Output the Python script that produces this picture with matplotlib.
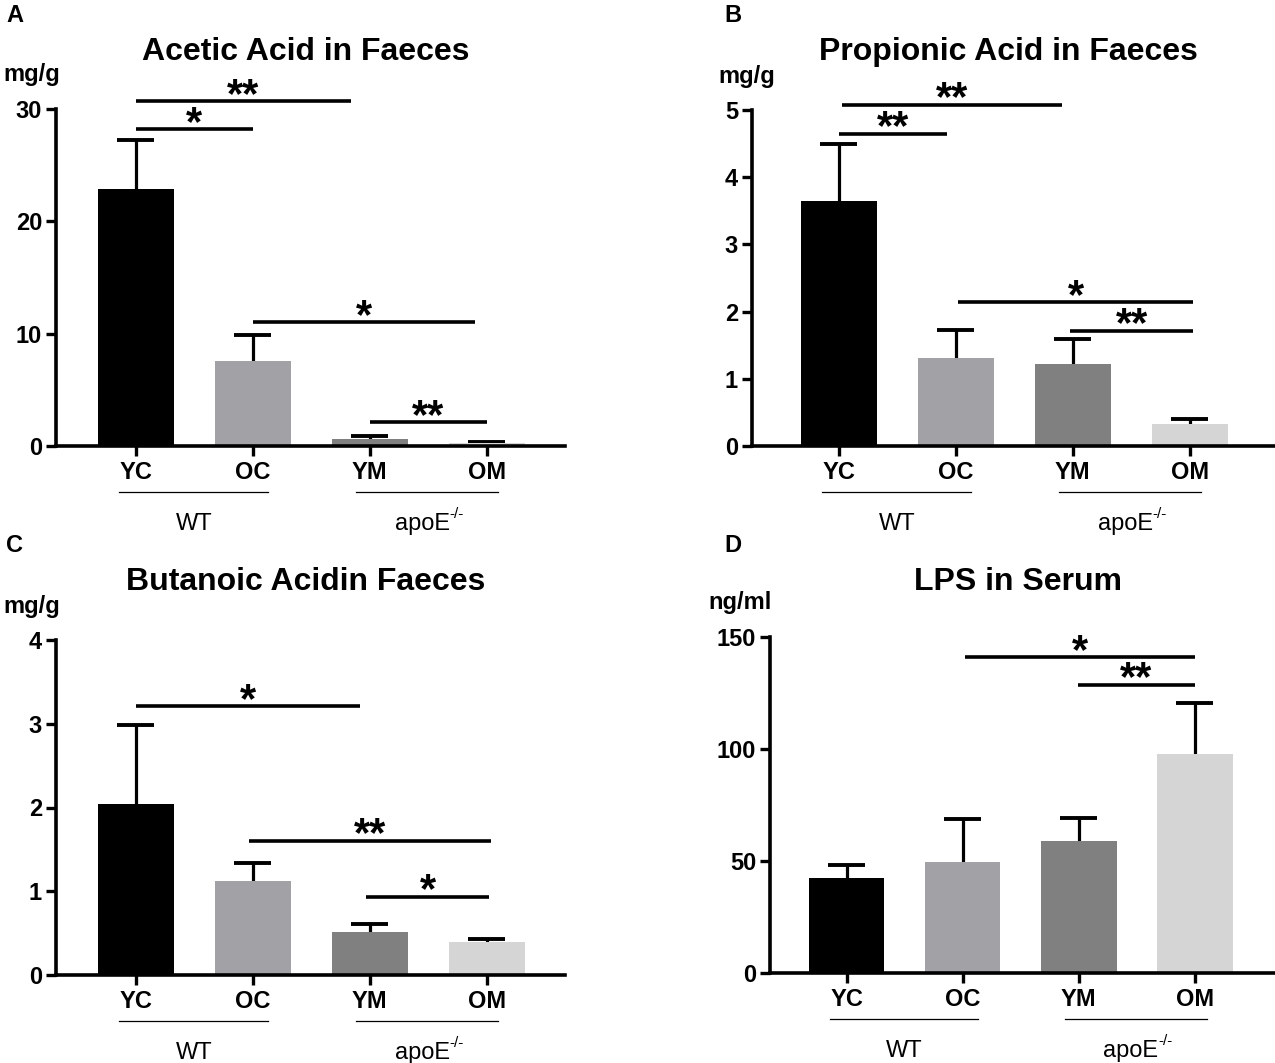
import numpy as np
import matplotlib.pyplot as plt

plt.rcParams['font.family'] = ['Liberation Sans', 'DejaVu Sans']

W, H = 1275, 1063

groups = ["YC", "OC", "YM", "OM"]
colors = ["#000000", "#a1a1a6", "#808080", "#d5d5d5"]

acetic_mean = [22.9, 7.6, 0.6, 0.3]
acetic_err = [27.2, 9.9, 0.9, 0.35]
propionic_mean = [3.64, 1.31, 1.22, 0.32]
propionic_err = [4.49, 1.73, 1.59, 0.40]
butanoic_mean = [2.04, 1.12, 0.51, 0.40]
butanoic_err = [2.99, 1.34, 0.61, 0.43]
lps_mean = [42.3, 49.5, 59.0, 97.6]
lps_err = [48.3, 68.8, 69.1, 120.5]

# significance brackets: (x start, x end, height, label)
acetic_sig = [(0, 1.84, 30.7, "**"), (0, 1, 28.2, "*"), (1, 2.9, 11.0, "*"), (2, 3, 2.1, "**")]
propionic_sig = [(0.03, 1.91, 5.08, "**"), (0, 0.93, 4.65, "**"), (1.02, 3.03, 2.14, "*"), (1.98, 3.03, 1.71, "**")]
butanoic_sig = [(0, 1.92, 3.21, "*"), (0.97, 3.04, 1.60, "**"), (1.97, 3.02, 0.93, "*")]
lps_sig = [(1.02, 3.0, 141, "*"), (1.99, 3.0, 128.7, "**")]

fig = plt.figure(figsize=(W / 100, H / 100), dpi=100)


def add_panel(left, right, top, bottom, xlim, ymax, yticks, mean, err, sig,
              title, unit, letter, unit_x, letter_x):
    ax = fig.add_axes([left / W, 1 - bottom / H, (right - left) / W, (bottom - top) / H])
    x = np.arange(len(groups))
    m = np.array(mean)
    e = np.array(err)
    ax.bar(x, m, width=0.65, color=colors, zorder=2)
    # upper error bars only
    ax.vlines(x, m, e, color="black", lw=2.3, zorder=1)
    ax.hlines(e, x - 0.16, x + 0.16, color="black", lw=2.8, zorder=1)
    ax.set_xlim(*xlim)
    ax.set_ylim(0, ymax)
    ax.set_yticks(yticks)
    ax.set_yticklabels([str(t) for t in yticks], fontsize=17, fontweight="bold")
    ax.set_xticks(x)
    ax.set_xticklabels(groups, fontsize=17, fontweight="bold")
    for s in ["top", "right"]:
        ax.spines[s].set_visible(False)
    for s in ["left", "bottom"]:
        ax.spines[s].set_linewidth(2.6)
    ax.tick_params(axis="both", width=2.4, length=7, pad=3)
    ax.tick_params(axis="x", pad=4)

    for x0, x1, h, lab in sig:
        ax.plot([x0, x1], [h, h], color="black", lw=2.6, clip_on=False,
                solid_capstyle="butt")
        ax.annotate(lab, xy=((x0 + x1) / 2, h), xytext=(0, 4),
                    textcoords="offset points", ha="center", va="center",
                    fontsize=30, fontweight="bold", annotation_clip=False)

    trans = ax.get_xaxis_transform()
    ax.plot([-0.14, 1.13], [-0.137, -0.137], color="black", lw=0.9,
            transform=trans, clip_on=False)
    ax.plot([1.88, 3.1], [-0.137, -0.137], color="black", lw=0.9,
            transform=trans, clip_on=False)
    ax.text(0.5, -0.2, "WT", transform=trans, ha="center", va="top", fontsize=17)
    apo = ax.text(2.45, -0.2, "apoE", transform=trans, ha="center", va="top",
                  fontsize=17)
    ax.annotate("-/-", xy=(1.0, 0.95), xycoords=apo, ha="left", va="center",
                fontsize=11)

    cx = (left + right) / 2 - 5
    ty = 52 if top < 300 else 582
    fig.text(cx / W, 1 - ty / H, title, ha="center", va="center",
             fontsize=23, fontweight="bold")
    fig.text(unit_x / W, 1 - (top - 34) / H, unit, ha="center", va="center",
             fontsize=17, fontweight="bold")
    fig.text(letter_x / W, 1 - (ty - 37) / H, letter, ha="left", va="center",
             fontsize=17, fontweight="bold")
    return ax


add_panel(56, 565, 109, 446, (-0.68, 3.67), 30, [0, 10, 20, 30],
          acetic_mean, acetic_err, acetic_sig, "Acetic Acid in Faeces", "mg/g", "A", 32, 6)
add_panel(752, 1275, 110, 446, (-0.74, 3.73), 5, [0, 1, 2, 3, 4, 5],
          propionic_mean, propionic_err, propionic_sig, "Propionic Acid in Faeces",
          "mg/g", "B", 747, 724)
add_panel(56, 565, 640, 975, (-0.68, 3.67), 4, [0, 1, 2, 3, 4],
          butanoic_mean, butanoic_err, butanoic_sig, "Butanoic Acidin Faeces",
          "mg/g", "C", 32, 6)
add_panel(770, 1275, 637, 973, (-0.66, 3.69), 150, [0, 50, 100, 150],
          lps_mean, lps_err, lps_sig, "LPS in Serum", "ng/ml", "D", 740, 724)

fig.savefig("out.png", dpi=100)
